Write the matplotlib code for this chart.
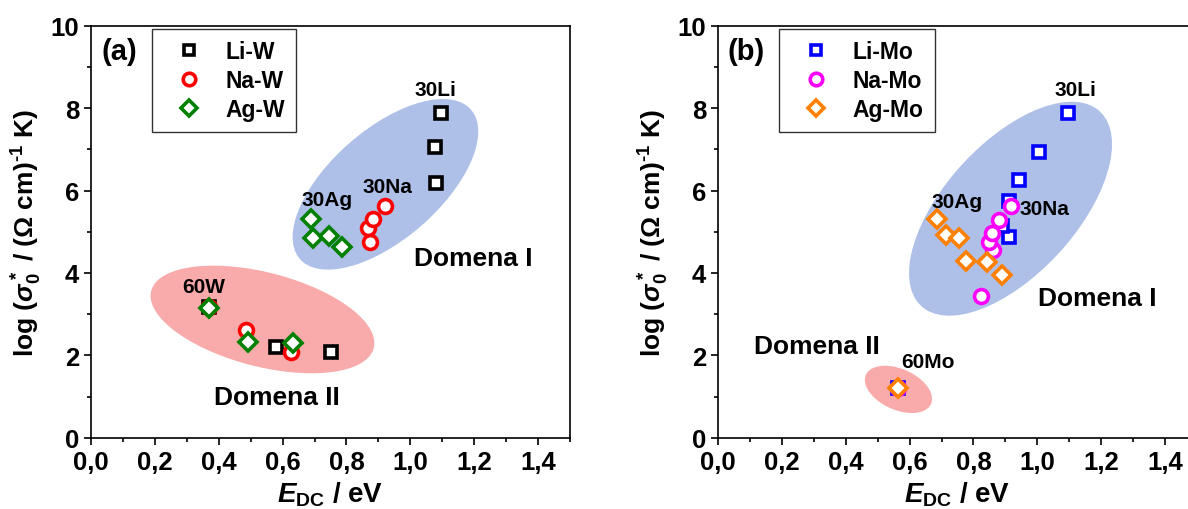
import matplotlib
matplotlib.use("Agg")
import matplotlib.pyplot as plt
from matplotlib.patches import Circle
from matplotlib.transforms import Affine2D
from matplotlib.ticker import MultipleLocator

plt.rcParams['font.family'] = ['Liberation Sans', 'DejaVu Sans']
plt.rcParams['font.weight'] = 'bold'
plt.rcParams['axes.labelweight'] = 'bold'
plt.rcParams['mathtext.fontset'] = 'custom'
plt.rcParams['mathtext.rm'] = 'Liberation Sans:bold'
plt.rcParams['mathtext.it'] = 'Liberation Sans:italic:bold'
plt.rcParams['mathtext.bf'] = 'Liberation Sans:bold'

# --- (a) W-glasses ---
li_w_x = [0.37, 0.58, 0.75, 1.08, 1.076, 1.097]
li_w_y = [3.18, 2.19, 2.07, 6.19, 7.06, 7.88]
na_w_x = [0.37, 0.486, 0.626, 0.874, 0.866, 0.884, 0.922]
na_w_y = [3.18, 2.61, 2.07, 4.76, 5.08, 5.31, 5.63]
ag_w_x = [0.371, 0.492, 0.632, 0.688, 0.695, 0.746, 0.785]
ag_w_y = [3.16, 2.33, 2.30, 5.32, 4.85, 4.89, 4.62]

# --- (b) Mo-glasses ---
li_mo_x = [0.564, 0.912, 0.89, 0.912, 0.942, 1.005, 1.095]
li_mo_y = [1.21, 4.87, 5.15, 5.75, 6.26, 6.93, 7.88]
na_mo_x = [0.564, 0.823, 0.862, 0.850, 0.859, 0.880, 0.919]
na_mo_y = [1.21, 3.45, 4.56, 4.76, 4.98, 5.28, 5.63]
ag_mo_x = [0.564, 0.687, 0.715, 0.756, 0.776, 0.842, 0.890]
ag_mo_y = [1.21, 5.31, 4.92, 4.84, 4.30, 4.27, 3.95]

# ellipses: centre (x, y), conjugate semi-axes u, v in data units
ell_a = [((0.922, 6.15), (0.258, 1.887), (-0.134, 0.853), "#AFC0E8"),
         ((0.537, 2.87), (0.347, -0.732), (0.049, 1.082), "#F9AAAA")]
ell_b = [((0.916, 5.558), (0.266, 2.444), (-0.174, 0.878), "#AFC0E8"),
         ((0.565, 1.173), (0.099, -0.396), (0.036, 0.416), "#F9AAAA")]

labels_a = [("30Li", 1.08, 8.45, 15), ("30Na", 0.928, 6.10, 15),
            ("30Ag", 0.738, 5.77, 15), ("60W", 0.354, 3.67, 15),
            ("Domena I", 1.198, 4.35, 19), ("Domena II", 0.581, 1.00, 19)]
labels_b = [("30Li", 1.118, 8.45, 15), ("30Ag", 0.750, 5.74, 15),
            ("30Na", 1.023, 5.57, 15), ("60Mo", 0.657, 1.84, 15),
            ("Domena I", 1.186, 3.40, 19), ("Domena II", 0.308, 2.22, 19)]


def draw_panel(ax, series, ellipses, labels, tag):
    for (c, u, v, col) in ellipses:
        tr = Affine2D.from_values(u[0], u[1], v[0], v[1], c[0], c[1]) + ax.transData
        ax.add_patch(Circle((0, 0), 1, transform=tr, facecolor=col,
                            edgecolor="none", zorder=1))
    for (x, y, m, col, ms, name) in series:
        ax.plot(x, y, ls="none", marker=m, ms=ms, mfc="white", mec=col,
                mew=2.6, label=name, zorder=3)
    for (t, x, y, fs) in labels:
        ax.text(x, y, t, ha="center", va="center", fontsize=fs,
                fontweight="bold", zorder=4)
    ax.text(0.089, 9.39, tag, ha="center", va="center", fontsize=21,
            fontweight="bold")
    ax.set_xlim(0, 1.5)
    ax.set_ylim(0, 10)
    ax.xaxis.set_major_locator(MultipleLocator(0.2))
    ax.xaxis.set_minor_locator(MultipleLocator(0.1))
    ax.yaxis.set_major_locator(MultipleLocator(2))
    ax.yaxis.set_minor_locator(MultipleLocator(1))
    ax.xaxis.set_major_formatter(lambda v, p: f"{v:.1f}".replace(".", ","))
    ax.tick_params(which="both", direction="out", top=False, right=False,
                   width=1.2, labelsize=18.5)
    ax.tick_params(which="major", length=5)
    ax.tick_params(which="minor", length=3)
    for s in ax.spines.values():
        s.set_linewidth(1.2)
    ax.set_xlabel(r"$E_{\mathrm{DC}}$ / eV", fontsize=20, labelpad=4)
    ax.set_ylabel(r"log ($\sigma_0^*$ / ($\Omega$ cm)$^{\text{-}1}$ K)",
                  fontsize=19, labelpad=5)
    leg = ax.legend(loc="upper left", bbox_to_anchor=(0.127, 0.993),
                    fontsize=16.5, frameon=True, fancybox=False,
                    borderpad=0.5, handletextpad=0.5, labelspacing=0.25,
                    handlelength=2.2, borderaxespad=0, markerscale=0.9)
    leg.get_frame().set_edgecolor("black")
    leg.get_frame().set_linewidth(1.0)


fig = plt.figure(figsize=(11.88, 5.1), dpi=100)
ax1 = fig.add_axes([0.0766, 0.1398, 0.4032, 0.8078])
ax2 = fig.add_axes([0.6044, 0.1398, 0.4032, 0.8078])

draw_panel(ax1, [(li_w_x, li_w_y, "s", "black", 8.5, "Li-W"),
                 (na_w_x, na_w_y, "o", "red", 10, "Na-W"),
                 (ag_w_x, ag_w_y, "D", "green", 9.5, "Ag-W")],
           ell_a, labels_a, "(a)")
draw_panel(ax2, [(li_mo_x, li_mo_y, "s", "#0000FF", 8.5, "Li-Mo"),
                 (na_mo_x, na_mo_y, "o", "#FF00FF", 10, "Na-Mo"),
                 (ag_mo_x, ag_mo_y, "D", "#FF8000", 9.5, "Ag-Mo")],
           ell_b, labels_b, "(b)")

fig.savefig("out.png", dpi=100)
